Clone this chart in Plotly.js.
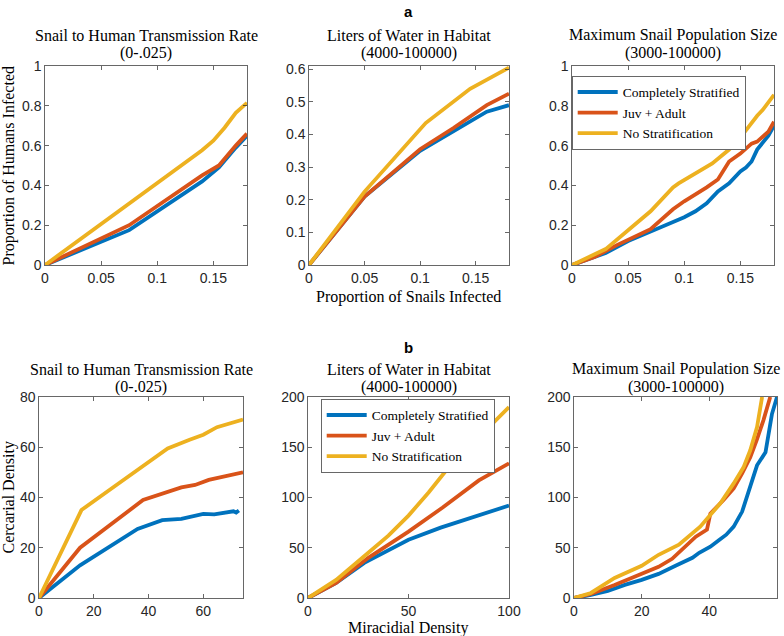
<!DOCTYPE html>
<html>
<head>
<meta charset="utf-8">
<script src="https://cdn.plot.ly/plotly-3.0.1.min.js"></script>
<style>html,body{margin:0;padding:0;background:#fff}#chart{width:784px;height:636px}</style>
</head>
<body>
<div id="chart"></div>
<script>
// ---------- Data ----------
var seriesNames = ["Completely Stratified", "Juv + Adult", "No Stratification"];
var titleLine1 = ["Snail to Human Transmission Rate", "Liters of Water in Habitat", "Maximum Snail Population Size"];
var titleLine2 = ["(0-.025)", "(4000-100000)", "(3000-100000)"];

// Row a: Proportion of Snails Infected (x) vs Proportion of Humans Infected (y)
var a1_blue_x = [0, 0.075, 0.14, 0.155, 0.17, 0.18];
var a1_blue_y = [0, 0.175, 0.42, 0.49, 0.59, 0.65];
var a1_orange_x = [0, 0.075, 0.14, 0.155, 0.17, 0.18];
var a1_orange_y = [0, 0.20, 0.45, 0.50, 0.60, 0.66];
var a1_yellow_x = [0, 0.07, 0.14, 0.15, 0.16, 0.17, 0.18];
var a1_yellow_y = [0, 0.288, 0.577, 0.625, 0.69, 0.765, 0.815];

var a2_blue_x = [0, 0.05, 0.10, 0.125, 0.16, 0.18];
var a2_blue_y = [0, 0.21, 0.35, 0.40, 0.47, 0.49];
var a2_orange_x = [0, 0.05, 0.10, 0.13, 0.16, 0.18];
var a2_orange_y = [0, 0.21, 0.355, 0.42, 0.49, 0.525];
var a2_yellow_x = [0, 0.05, 0.105, 0.145, 0.18];
var a2_yellow_y = [0, 0.225, 0.435, 0.54, 0.605];

var a3_blue_x = [0, 0.03, 0.05, 0.08, 0.10, 0.11, 0.12, 0.13, 0.14, 0.15, 0.155, 0.16, 0.165, 0.175, 0.18];
var a3_blue_y = [0, 0.06, 0.12, 0.19, 0.24, 0.27, 0.31, 0.37, 0.41, 0.47, 0.49, 0.52, 0.58, 0.65, 0.70];
var a3_orange_x = [0, 0.02, 0.04, 0.07, 0.09, 0.10, 0.12, 0.13, 0.14, 0.15, 0.16, 0.165, 0.175, 0.18];
var a3_orange_y = [0, 0.04, 0.10, 0.18, 0.28, 0.32, 0.39, 0.43, 0.52, 0.56, 0.61, 0.62, 0.67, 0.72];
var a3_yellow_x = [0, 0.03, 0.07, 0.09, 0.095, 0.125, 0.14, 0.15, 0.165, 0.17, 0.18];
var a3_yellow_y = [0, 0.08, 0.27, 0.39, 0.41, 0.51, 0.58, 0.64, 0.75, 0.78, 0.855];

// Row b: Miracidial Density (x) vs Cercarial Density (y)
var b1_blue_x = [0, 15, 36, 45, 52, 58, 60, 64, 68, 71, 72, 73];
var b1_blue_y = [0, 13, 27.5, 31, 31.5, 33, 33.5, 33.3, 34, 34.5, 34, 34.8];
var b1_orange_x = [0, 15, 38, 46, 52, 57, 62, 74.5];
var b1_orange_y = [0, 20, 39, 42, 44, 45, 47, 50];
var b1_yellow_x = [0, 15.5, 27, 40, 47, 55, 60, 65, 74.5];
var b1_yellow_y = [0, 35, 44, 54, 59.5, 63, 65, 68, 71];

var b2_blue_x = [0, 14, 28, 50, 66, 85, 100];
var b2_blue_y = [0, 15, 35, 58, 70, 82, 92];
var b2_orange_x = [0, 14, 30, 50, 67, 85, 100];
var b2_orange_y = [0, 15, 40, 66, 90, 117, 134];
var b2_yellow_x = [0, 14, 30, 40, 50, 60, 70, 80, 100];
var b2_yellow_y = [0, 18, 45, 62, 82, 105, 130, 150, 190];

var b3_blue_x = [0, 5, 10, 15, 20, 25, 30, 35, 37, 40.3, 43, 45, 47.2, 49.7, 52.1, 54.1, 56.6, 57.6, 58.5, 60];
var b3_blue_y = [0, 3, 7, 13, 18, 24, 32, 40, 45, 51, 58, 63, 71, 86, 111, 132, 145, 164, 183, 200];
var b3_orange_x = [0, 5, 12, 20, 25, 29, 33, 36, 39.3, 40.3, 44.2, 47.2, 49.7, 52.1, 54, 56, 58];
var b3_orange_y = [0, 4, 13, 24, 31, 39, 52, 61, 68, 84, 97.5, 109, 124, 140, 157, 177, 200];
var b3_yellow_x = [0, 5, 12, 20, 25, 31, 37.3, 43.2, 47.2, 50.1, 52.1, 54.1, 55.6];
var b3_yellow_y = [0, 5, 20, 32, 43, 53, 71, 94, 114, 130, 147, 170, 200];

// Tick values
var tickA_x = [0, 0.05, 0.1, 0.15];
var tickA1_y = [0, 0.2, 0.4, 0.6, 0.8, 1];
var tickA2_y = [0, 0.1, 0.2, 0.3, 0.4, 0.5, 0.6];
var tickB1_x = [0, 20, 40, 60];
var tickB1_y = [0, 20, 40, 60, 80];
var tickB2_x = [0, 50, 100];
var tickB_y = [0, 50, 100, 150, 200];

// ---------- Build ----------
var colors = ["#0072BD", "#D95319", "#EDB120"];
var W = 784, H = 636;
function px(x) { return x / W; }
function py(y) { return 1 - y / H; }

var panels = [
  {xa: "x", ya: "y", data: [[a1_blue_x, a1_blue_y], [a1_orange_x, a1_orange_y], [a1_yellow_x, a1_yellow_y]], legend: null},
  {xa: "x2", ya: "y2", data: [[a2_blue_x, a2_blue_y], [a2_orange_x, a2_orange_y], [a2_yellow_x, a2_yellow_y]], legend: null},
  {xa: "x3", ya: "y3", data: [[a3_blue_x, a3_blue_y], [a3_orange_x, a3_orange_y], [a3_yellow_x, a3_yellow_y]], legend: "legend"},
  {xa: "x4", ya: "y4", data: [[b1_blue_x, b1_blue_y], [b1_orange_x, b1_orange_y], [b1_yellow_x, b1_yellow_y]], legend: null},
  {xa: "x5", ya: "y5", data: [[b2_blue_x, b2_blue_y], [b2_orange_x, b2_orange_y], [b2_yellow_x, b2_yellow_y]], legend: "legend2"},
  {xa: "x6", ya: "y6", data: [[b3_blue_x, b3_blue_y], [b3_orange_x, b3_orange_y], [b3_yellow_x, b3_yellow_y]], legend: null}
];

var traces = [];
panels.forEach(function (p) {
  p.data.forEach(function (d, i) {
    var t = {
      x: d[0], y: d[1], type: "scatter", mode: "lines",
      xaxis: p.xa, yaxis: p.ya,
      name: seriesNames[i],
      line: {color: colors[i], width: 3.8},
      showlegend: !!p.legend
    };
    if (p.legend) t.legend = p.legend;
    traces.push(t);
  });
});

var axColor = "#262626";
var tickFont = {family: "Liberation Sans, Arial, sans-serif", size: 14, color: "#262626"};
function ax(domain, range, tickvals, anchor) {
  return {
    domain: domain, range: range, tickvals: tickvals, anchor: anchor,
    showline: true, linecolor: axColor, linewidth: 0.7, mirror: "ticks",
    ticks: "inside", ticklen: 4, tickcolor: axColor, tickwidth: 0.7,
    showgrid: false, zeroline: false, tickfont: tickFont, fixedrange: true
  };
}

var rowA = [py(265), py(66)], rowB = [py(598), py(397)];
var legendFont = {family: "Liberation Serif, Times New Roman, serif", size: 13.5, color: "#000"};
var layout = {
  width: W, height: H,
  margin: {l: 0, r: 0, t: 0, b: 0},
  paper_bgcolor: "#fff", plot_bgcolor: "#fff",
  showlegend: true,
  xaxis: ax([px(45), px(247)], [0, 0.18], tickA_x, "y"),
  yaxis: ax(rowA, [0, 1], tickA1_y, "x"),
  xaxis2: ax([px(309), px(509)], [0, 0.18], tickA_x, "y2"),
  yaxis2: ax(rowA, [0, 0.61], tickA2_y, "x2"),
  xaxis3: ax([px(572), px(774)], [0, 0.18], tickA_x, "y3"),
  yaxis3: ax(rowA, [0, 1], tickA1_y, "x3"),
  xaxis4: ax([px(39), px(243)], [0, 74.5], tickB1_x, "y4"),
  yaxis4: ax(rowB, [0, 80], tickB1_y, "x4"),
  xaxis5: ax([px(308), px(509)], [0, 100], tickB2_x, "y5"),
  yaxis5: ax(rowB, [0, 200], tickB_y, "x5"),
  xaxis6: ax([px(574), px(777)], [0, 60], tickB1_x, "y6"),
  yaxis6: ax(rowB, [0, 200], tickB_y, "x6"),
  legend: {
    x: px(572), y: py(76), xanchor: "left", yanchor: "top",
    bgcolor: "#fff", bordercolor: axColor, borderwidth: 0.7,
    font: legendFont, tracegroupgap: 0, itemwidth: 40
  },
  legend2: {
    x: px(321), y: py(399), xanchor: "left", yanchor: "top",
    bgcolor: "#fff", bordercolor: axColor, borderwidth: 0.7,
    font: legendFont, tracegroupgap: 0, itemwidth: 40
  },
  annotations: []
};

var serif = "Liberation Serif, Times New Roman, serif";
var tFont = {family: serif, size: 16, color: "#000"};
var titleCentersA = [146, 409, 673];
var titleCentersB = [141, 408.5, 675.5];
function note(text, x, y, font, angle) {
  var a = {text: text, x: px(x), y: py(y), xref: "paper", yref: "paper",
    xanchor: "center", yanchor: "middle", showarrow: false, font: font};
  if (angle) a.textangle = angle;
  layout.annotations.push(a);
}
for (var i = 0; i < 3; i++) {
  note(titleLine1[i], titleCentersA[i], 35, tFont);
  note(titleLine2[i], titleCentersA[i], 53, tFont);
  note(titleLine1[i], titleCentersB[i], 369, tFont);
  note(titleLine2[i], titleCentersB[i], 387, tFont);
}
var boldFont = {family: "Liberation Sans, Arial, sans-serif", size: 15, color: "#000"};
note("<b>a</b>", 408, 11, boldFont);
note("<b>b</b>", 408, 347, boldFont);
note("Proportion of Snails Infected", 409, 297, tFont);
note("Miracidial Density", 408, 628, tFont);
note("Proportion of Humans Infected", 8, 165.5, tFont, -90);
note("Cercarial Density", 8, 497.5, tFont, -90);

Plotly.newPlot("chart", traces, layout, {displayModeBar: false, staticPlot: true});
</script>
</body>
</html>
